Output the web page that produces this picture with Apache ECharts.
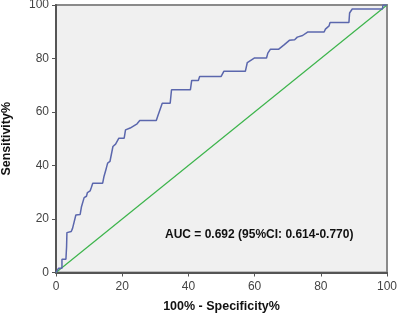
<!DOCTYPE html>
<html>
<head>
<meta charset="utf-8">
<script src="https://cdn.jsdelivr.net/npm/echarts@6/dist/echarts.min.js"></script>
<style>
  html, body { margin: 0; padding: 0; background: #fff; }
  #main { width: 398px; height: 314px; }
</style>
</head>
<body>
<div id="main"></div>
<script>
// ROC curve points (100% - specificity, sensitivity)
var fpr = [0, 0.8, 1.8, 1.8, 3, 3.2, 3.3, 3.3, 4.6, 5, 5.6, 6, 7.3, 7.7, 8.3, 8.5, 9.2, 9.5, 10.3, 10.7,
  11.1, 14.1, 14.5, 15.2, 15.6, 16.3, 16.8, 17.2, 18, 19, 20.6, 21, 22.4, 24.5, 25.3, 30.3, 30.7, 31.3, 32.1, 34.5,
  34.9, 40.6, 41, 43, 43.4, 49.9, 50.7, 57.2, 57.8, 58.4, 60, 63.6, 64, 64.8, 67.3, 68.9, 70.5, 72.1, 72.9, 74.5,
  76, 81, 81.4, 82.5, 82.8, 88.5, 88.7, 89.5, 98.6, 98.8, 100];
var tpr = [0, 1.6, 1.6, 5, 5, 9.7, 10, 14.9, 15.3, 16.5, 16.5, 21.5, 21.7, 24.6, 24.8, 28, 28.5, 29.9, 30.5, 31.9,
  33.4, 33.4, 35.9, 39, 40.9, 41.5, 42, 47.1, 48, 50.2, 50.2, 53.3, 54, 55.6, 56.8, 56.8, 58.3, 58.6, 63.3, 63.3,
  68.3, 68.3, 71.8, 71.8, 73.3, 73.3, 75.2, 75.2, 78.5, 78.7, 80.2, 80.2, 82, 83.5, 83.5, 85.1, 86.8, 87, 88, 88.6,
  89.9, 89.9, 91, 92.2, 93.5, 93.5, 97, 98.5, 98.5, 100, 100];
var refX = [0, 100];
var refY = [0, 100];
var aucText = 'AUC = 0.692 (95%CI: 0.614-0.770)';

var rocData = [];
for (var i = 0; i < fpr.length; i++) {
  rocData.push([fpr[i], tpr[i]]);
}
var refData = [];
for (var j = 0; j < refX.length; j++) {
  refData.push([refX[j], refY[j]]);
}

var chart = echarts.init(document.getElementById('main'), null, { renderer: 'canvas' });
var font = 'Liberation Sans, Arial, sans-serif';
var option = {
  animation: false,
  textStyle: { fontFamily: font },
  grid: {
    left: 56,
    right: 11,
    top: 5,
    bottom: 41.5,
    outerBoundsMode: 'none',
    containLabel: false,
    show: true,
    backgroundColor: '#f0f0f0',
    borderColor: '#8a8a8a',
    borderWidth: 2
  },
  xAxis: {
    type: 'value',
    min: 0,
    max: 100,
    interval: 20,
    name: '100% - Specificity%',
    nameLocation: 'middle',
    nameGap: 28,
    nameTextStyle: { fontWeight: 'bold', fontSize: 12.5, color: '#111', fontFamily: font },
    axisLine: { show: true, lineStyle: { color: '#555', width: 2 } },
    axisTick: { show: true, length: 4, lineStyle: { color: '#555' } },
    axisLabel: { color: '#444', fontSize: 12, margin: 8, fontFamily: font },
    splitLine: { show: false }
  },
  yAxis: {
    type: 'value',
    min: 0,
    max: 100,
    interval: 20,
    name: 'Sensitivity%',
    nameLocation: 'middle',
    nameGap: 43,
    nameTextStyle: { fontWeight: 'bold', fontSize: 12.5, color: '#111', fontFamily: font },
    axisLine: { show: true, lineStyle: { color: '#555', width: 2 } },
    axisTick: { show: true, length: 4, lineStyle: { color: '#555' } },
    axisLabel: { color: '#444', fontSize: 12, margin: 7, fontFamily: font },
    splitLine: { show: false }
  },
  series: [
    {
      type: 'line',
      data: refData,
      symbol: 'none',
      lineStyle: { color: '#3cb44b', width: 1.2 },
      z: 2
    },
    {
      type: 'line',
      data: rocData,
      symbol: 'none',
      lineStyle: { color: '#5b67ad', width: 1.5 },
      z: 3
    }
  ],
  graphic: [
    {
      type: 'text',
      left: 165,
      top: 229,
      style: {
        text: aucText,
        font: 'bold 12px Liberation Sans, Arial, sans-serif',
        fill: '#111'
      }
    }
  ]
};
chart.setOption(option);
</script>
</body>
</html>
